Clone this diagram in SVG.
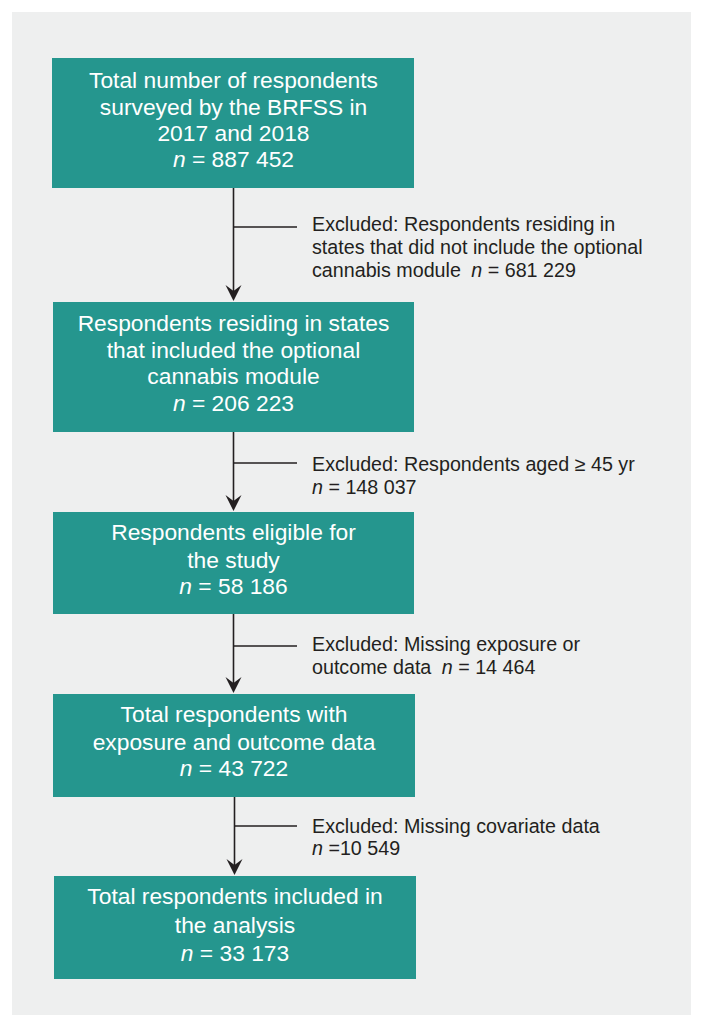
<svg xmlns="http://www.w3.org/2000/svg" width="703" height="1027" viewBox="0 0 703 1027">
<style>
.box{fill:#25968e}
.bt{font-family:"Liberation Sans",Arial,sans-serif;font-size:22.8px;fill:#ffffff;text-anchor:middle}
.et{font-family:"Liberation Sans",Arial,sans-serif;font-size:19.7px;fill:#231f20}
.ln{stroke:#231f20;stroke-width:1.6;fill:none}
.ah{fill:#231f20}
.i{font-style:italic}
</style>
<rect x="12" y="12" width="679" height="1003" fill="#eeefef"/>
<g id="connectors">
<line class="ln" x1="233.5" y1="188" x2="233.5" y2="298"/>
<path class="ah" d="M233.5,301 l-8,-16 l8,6 l8,-6 z"/>
<line class="ln" x1="233.5" y1="227" x2="297" y2="227"/>
<line class="ln" x1="233.5" y1="432" x2="233.5" y2="508"/>
<path class="ah" d="M233.5,511 l-8,-16 l8,6 l8,-6 z"/>
<line class="ln" x1="233.5" y1="463" x2="297" y2="463"/>
<line class="ln" x1="233.5" y1="614" x2="233.5" y2="690"/>
<path class="ah" d="M233.5,693 l-8,-16 l8,6 l8,-6 z"/>
<line class="ln" x1="233.5" y1="646" x2="297" y2="646"/>
<line class="ln" x1="234.5" y1="797" x2="234.5" y2="872"/>
<path class="ah" d="M234.5,875 l-8,-16 l8,6 l8,-6 z"/>
<line class="ln" x1="234.5" y1="826" x2="297" y2="826"/>
</g>
<g id="n1">
<rect class="box" x="52" y="58" width="362" height="130"/>
<text class="bt" x="233.5" y="88">Total number of respondents</text>
<text class="bt" x="233.5" y="115">surveyed by the BRFSS in</text>
<text class="bt" x="233.5" y="141">2017 and 2018</text>
<text class="bt" x="233.5" y="167"><tspan class="i">n</tspan> = 887 452</text>
</g>
<g id="e1">
<text class="et" x="312" y="231">Excluded: Respondents residing in</text>
<text class="et" x="312" y="254">states that did not include the optional</text>
<text class="et" x="312" y="277">cannabis module <tspan class="i" dx="5">n</tspan> = 681 229</text>
</g>
<g id="n2">
<rect class="box" x="53" y="302" width="361" height="130"/>
<text class="bt" x="233.5" y="331">Respondents residing in states</text>
<text class="bt" x="233.5" y="358">that included the optional</text>
<text class="bt" x="233.5" y="384">cannabis module</text>
<text class="bt" x="233.5" y="411"><tspan class="i">n</tspan> = 206 223</text>
</g>
<g id="e2">
<text class="et" x="312" y="471">Excluded: Respondents aged ≥ 45 yr</text>
<text class="et" x="312" y="494"><tspan class="i">n</tspan> = 148 037</text>
</g>
<g id="n3">
<rect class="box" x="53" y="512" width="361" height="102"/>
<text class="bt" x="233.5" y="540">Respondents eligible for</text>
<text class="bt" x="233.5" y="568">the study</text>
<text class="bt" x="233.5" y="594"><tspan class="i">n</tspan> = 58 186</text>
</g>
<g id="e3">
<text class="et" x="312" y="651">Excluded: Missing exposure or</text>
<text class="et" x="312" y="674">outcome data <tspan class="i" dx="5">n</tspan> = 14 464</text>
</g>
<g id="n4">
<rect class="box" x="53" y="694" width="362" height="103"/>
<text class="bt" x="234" y="722">Total respondents with</text>
<text class="bt" x="234" y="750">exposure and outcome data</text>
<text class="bt" x="234" y="776"><tspan class="i">n</tspan> = 43 722</text>
</g>
<g id="e4">
<text class="et" x="312" y="833">Excluded: Missing covariate data</text>
<text class="et" x="312" y="855"><tspan class="i">n</tspan> =10 549</text>
</g>
<g id="n5">
<rect class="box" x="54" y="876" width="362" height="103"/>
<text class="bt" x="235" y="904">Total respondents included in</text>
<text class="bt" x="235" y="933">the analysis</text>
<text class="bt" x="235" y="961"><tspan class="i">n</tspan> = 33 173</text>
</g>
</svg>
